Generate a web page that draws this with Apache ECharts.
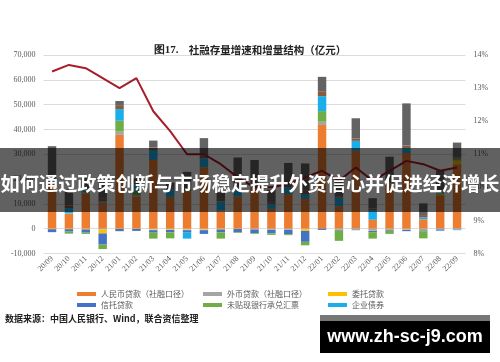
<!DOCTYPE html>
<html><head><meta charset="utf-8">
<script src="https://cdn.jsdelivr.net/npm/echarts@6/dist/echarts.min.js"></script>
<style>html,body{margin:0;padding:0;background:#fff}#c{width:500px;height:362px}</style>
</head><body><div id="c"></div>
<script>
const categories = ['20/09','20/10','20/11','20/12','21/01','21/02','21/03','21/04','21/05','21/06','21/07','21/08','21/09','21/10','21/11','21/12','22/01','22/02','22/03','22/04','22/05','22/06','22/07','22/08','22/09'];
const leftTicks = [-10000, 70000, 10000];
const rightTicks = [8, 14, 1];
// 亿元
const rmbLoans    = [19000, 6000,14300,10500,37800,13000,27700,12800,15000,24800, 7000,13000,16500, 8000,14000,12000,41800, 9100,31300, 3600,18400,30500, 3800,13500,26000];
const fxLoans     = [  150,  300,  200, -400, 1300,  500, -300, -300, -300, -300,  300,    0, -200, -300, -300, -200, 1200, -300, -400, -800, -500, -400, -600, -300, -300];
const entrusted   = [ -200, -200, -300,-1500, -100, -100, -300, -200, -300, -300, -300, -100, -100, -100, -100, -700,  100, -100,  100, -100, -100, -100, -100,  700, 1400];
const trust       = [-1200,-1000,-1300,-4500, -900, -800,-1000,-1000,-1000,-1500,-1200,-1300,-1500,-1500,-1800,-4400, -500, -400, -200, -500, -300, -500, -300, -500, -100];
const undiscount  = [    0, -800, -500,-1800, 4400, 2000,-2400,-2400,  200,    0,-2500, -300, -300, -600, -400,-1400, 4300,-4100,    0,-2600,-1200,    0,-2900,    0,  800];
const corpBonds   = [ 1300, 2000,  900,  500, 4700, 2500, 4000, 3000,-2400, 3600, 3700, 2500, 1700, 1900, 2800, 2000, 6000, 3400, 4000, 3900,  400, 2000,  800,  600, -200];
const equity      = [ 1200, 1000, 1000, 1300, 1600,  800, 1000,  800, 1000, 1000, 1000, 1200, 1300,  800, 1000, 1500, 2000,  600, 1000,  600,  400, 1000,  900,  600,  400];
const govBonds    = [11600, 6500, 4000, 6400, 1650, 1500, 2800, 2000, 6700, 7100, 2700,12000, 8200, 5000, 8700,10800, 5800, 6000, 8100, 4200, 9800,17000, 4700, 8000, 6100];
const stockGrowth = [13.5, 13.7, 13.6, 13.3, 13.0, 13.3, 12.3, 11.7, 11.0, 11.0, 10.7, 10.3, 10.0, 10.0, 10.1, 10.3, 10.5, 10.2, 10.6, 10.2, 10.5, 10.8, 10.7, 10.5, 10.6];

const names = ['人民币贷款（社融口径）','外币贷款（社融口径）','委托贷款','信托贷款','未贴现银行承兑汇票','企业债券','非金融企业境内股票融资','政府债券'];
const colors = ['#ED7D31','#A5A5A5','#FFC000','#4472C4','#70AD47','#1AAEEB','#8A5A3C','#636363'];
const datasets = [rmbLoans, fxLoans, entrusted, trust, undiscount, corpBonds, equity, govBonds];

const chart = echarts.init(document.getElementById('c'), null, {renderer:'canvas'});
const serif = 'Liberation Serif';
const cjk = 'Noto Sans CJK SC';
const lgText = {fontSize: 8, color: '#595959', fontFamily: cjk};
const barSeries = datasets.map((d, i) => ({
  name: names[i], type: 'bar', stack: 'total', data: d, barWidth: '50%',
  itemStyle: {color: colors[i]}, emphasis: {disabled: true}
}));
const legendBase = {orient: 'vertical', itemGap: 3, itemWidth: 19, itemHeight: 4, icon: 'rect', textStyle: lgText, selectedMode: false};
chart.setOption({
  animation: false,
  title: {
    text: '{a|图17.}  {b|社融存量增速和增量结构（亿元）}',
    left: 'center', top: 36,
    textStyle: {rich: {a: {fontFamily: serif, fontSize: 11, color: '#222'}, b: {fontFamily: cjk, fontSize: 10.5, fontWeight: 'bold', color: '#222'}}}
  },
  legend: [
    Object.assign({left: 72, top: 285, data: [names[0], names[3]]}, legendBase),
    Object.assign({left: 198, top: 285, data: [names[1], names[4]]}, legendBase),
    Object.assign({left: 323, top: 285, data: [names[2], names[5]]}, legendBase)
  ],
  grid: {left: 43.6, right: 34.5, top: 55, bottom: 108.5},
  xAxis: {
    type: 'category', data: categories,
    axisLine: {show: false, onZero: false}, axisTick: {show: false},
    axisLabel: {rotate: 45, fontSize: 8, color: '#595959', fontFamily: serif, margin: 4, interval: 0}
  },
  yAxis: [
    {type: 'value', min: leftTicks[0], max: leftTicks[1], interval: leftTicks[2],
     axisLabel: {fontSize: 8, color: '#595959', fontFamily: serif, margin: 8},
     splitLine: {lineStyle: {color: '#DCDCDC'}}, axisLine: {show: false}, axisTick: {show: false}},
    {type: 'value', min: rightTicks[0], max: rightTicks[1], interval: rightTicks[2],
     axisLabel: {fontSize: 8, color: '#595959', fontFamily: serif, formatter: '{value}%', margin: 8},
     splitLine: {show: false}, axisLine: {show: false}, axisTick: {show: false}}
  ],
  series: barSeries.concat([{
    name: '社融存量增速', type: 'line', yAxisIndex: 1, data: stockGrowth, symbol: 'none',
    lineStyle: {color: '#A51E2A', width: 2}, itemStyle: {color: '#A51E2A'}, z: 5
  }]),
  graphic: [
    {type: 'text', left: 5, top: 314, z: 50, style: {text: '数据来源：中国人民银行、Wind，联合资信整理', font: 'bold 9px "Noto Sans CJK SC"', fill: '#222'}},
    {type: 'rect', shape: {x: 0, y: 148, width: 500, height: 64}, style: {fill: 'rgba(0,0,0,0.62)'}, z: 100},
    {type: 'text', x: 250, y: 184, z: 101, style: {text: '如何通过政策创新与市场稳定提升外资信心并促进经济增长', font: 'bold 19.2px "Noto Sans CJK SC"', fill: '#fff', align: 'center', verticalAlign: 'middle'}},
    {type: 'rect', shape: {x: 320, y: 315, width: 170, height: 6}, style: {fill: '#777'}, z: 100},
    {type: 'rect', shape: {x: 320, y: 321, width: 170, height: 32}, style: {fill: '#000'}, z: 100},
    {type: 'text', x: 405, y: 337, z: 101, style: {text: 'www.zh-sc-j9.com', font: 'bold 18px "Liberation Sans"', fill: '#fff', align: 'center', verticalAlign: 'middle'}}
  ]
});
</script></body></html>
